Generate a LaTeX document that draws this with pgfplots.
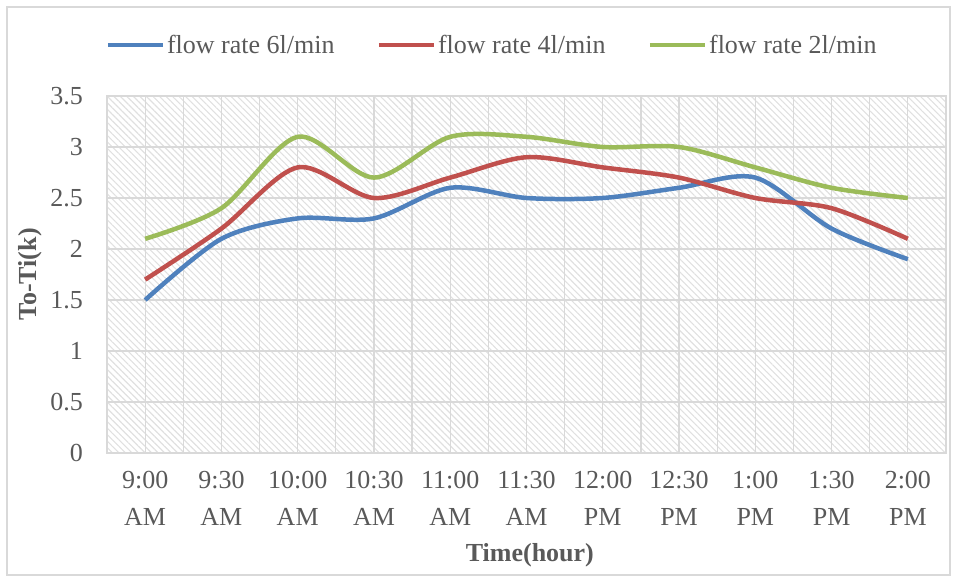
\documentclass[border=0pt]{standalone}
\usepackage{pgfplots}
\pgfplotsset{compat=1.18}
\usepackage{fontspec}
\setmainfont{Liberation Serif}
\usetikzlibrary{patterns.meta}

\definecolor{txtgray}{HTML}{595959}
\definecolor{gridgray}{HTML}{D9D9D9}
\definecolor{hatch}{HTML}{E0E0E0}
\definecolor{s6}{HTML}{4F81BD}
\definecolor{s4}{HTML}{C0504D}
\definecolor{s2}{HTML}{9BBB59}

\begin{document}
\begin{tikzpicture}
\useasboundingbox (-107bp,-128bp) rectangle (848bp,453bp);
\draw[gridgray, line width=1.5bp] (-100bp,-122bp) rectangle (843bp,446bp);
\begin{axis}[
    at={(0,0)}, anchor=south west,
    scale only axis, width=839bp, height=357bp,
    xmin=-0.5, xmax=10.5, ymin=0, ymax=3.5,
    xtick={0,...,10},
    xticklabels={9:00\\AM, 9:30\\AM, 10:00\\AM, 10:30\\AM, 11:00\\AM, 11:30\\AM,
                 12:00\\PM, 12:30\\PM, 1:00\\PM, 1:30\\PM, 2:00\\PM},
    minor x tick num=1,
    ytick={0,0.5,...,3.5},
    yticklabel style={/pgf/number format/fixed, /pgf/number format/precision=1},
    /pgf/number format/assume math mode=true,
    major tick length=0pt, minor tick length=0pt,
    xmajorgrids, xminorgrids, ymajorgrids,
    grid style={gridgray, line width=1.2bp},
    minor grid style={gridgray, line width=1.2bp},
    axis line style={gridgray, line width=1.5bp},
    axis background/.style={pattern={Lines[angle=-45,distance=4.6bp,line width=1.1bp]}, pattern color=hatch},
    tick label style={font=\fontsize{26bp}{37bp}\selectfont, text=txtgray},
    x tick label style={align=center, anchor=north, inner sep=0pt, yshift=-18bp},
    y tick label style={anchor=east, inner sep=0pt, xshift=-24bp},
    xlabel={Time(hour)}, ylabel={To-Ti(k)},
    every axis x label/.style={at={(axis description cs:0.504,-0.286)}, anchor=center,
        font=\fontsize{26bp}{30bp}\selectfont\bfseries, text=txtgray},
    every axis y label/.style={at={(axis description cs:-0.092,0.5)}, anchor=center, rotate=90,
        font=\fontsize{26bp}{30bp}\selectfont\bfseries, text=txtgray},
    legend style={at={(axis description cs:0.459,1.143)}, anchor=center,
        draw=none, fill=none, legend columns=3,
        font=\fontsize{26bp}{30bp}\selectfont, text=txtgray,
        nodes={inner sep=2bp},
        /tikz/every even column/.append style={column sep=40bp}},
    legend image code/.code={\draw[#1] (0bp,0bp) -- (55bp,0bp);},
    every axis plot/.append style={line width=4.5bp, smooth, tension=0.5, no marks},
]
\addplot[s6] coordinates {(0,1.5)(1,2.1)(2,2.3)(3,2.3)(4,2.6)(5,2.5)(6,2.5)(7,2.6)(8,2.7)(9,2.2)(10,1.9)};
\addplot[s4] coordinates {(0,1.7)(1,2.2)(2,2.8)(3,2.5)(4,2.7)(5,2.9)(6,2.8)(7,2.7)(8,2.5)(9,2.4)(10,2.1)};
\addplot[s2] coordinates {(0,2.1)(1,2.4)(2,3.1)(3,2.7)(4,3.1)(5,3.1)(6,3.0)(7,3.0)(8,2.8)(9,2.6)(10,2.5)};
\legend{flow rate 6l/min, flow rate 4l/min, flow rate 2l/min}
\end{axis}
\end{tikzpicture}
\end{document}
